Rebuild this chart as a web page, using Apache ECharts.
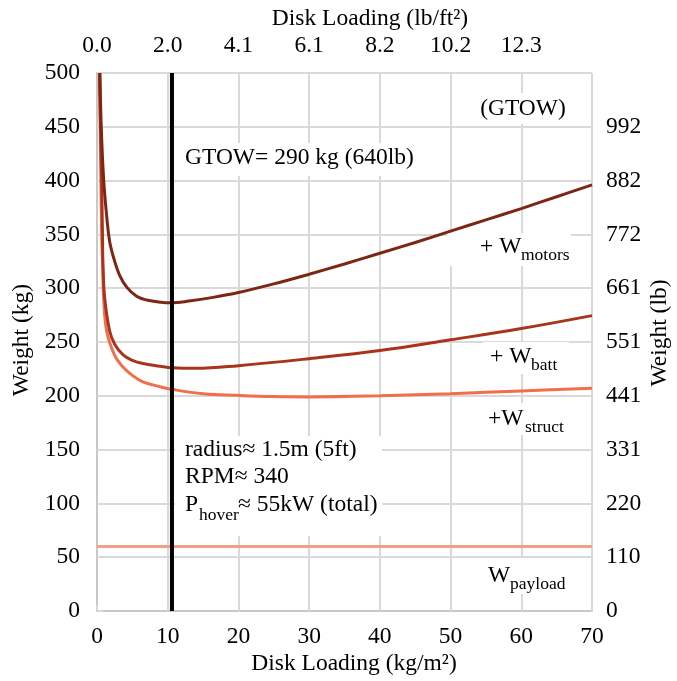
<!DOCTYPE html>
<html><head><meta charset="utf-8">
<script src="https://cdn.jsdelivr.net/npm/echarts@6/dist/echarts.min.js"></script>
<style>html,body{margin:0;padding:0;background:#fff}#c{width:677px;height:681px}</style>
</head><body><div id="c"></div>
<script>
// ---- data ----
const gtowX   = [0.42, 0.6, 0.95, 1.4, 1.8, 2.5, 3.2, 4.2, 5.6, 7, 9, 10.6, 13, 16, 20, 25, 30, 35, 40, 45, 50, 55, 60, 65, 70];
const gtowY   = [500, 450, 400, 365, 343, 325, 312, 301, 292.5, 289, 287, 286.5, 288, 291, 296, 304, 313, 322.5, 332.5, 342.5, 353, 363.5, 374, 385, 396];
const battX   = [0.36, 0.5, 0.65, 0.77, 0.85, 1.1, 1.8, 2.5, 3.7, 5, 6.5, 8.9, 10.6, 14, 20, 30, 40, 50, 60, 70];
const battY   = [500, 450, 400, 352, 321, 290, 260, 248, 238, 233, 230, 227.5, 226, 225.5, 228, 234.5, 242, 252, 262.5, 274.5];
const structX = [0.33, 0.45, 0.55, 0.65, 0.8, 0.95, 1.4, 2.5, 3.5, 5, 6.5, 8.9, 10.6, 15, 20, 25, 30, 40, 50, 60, 70];
const structY = [500, 450, 400, 352, 321, 290, 259, 237.5, 228, 219, 213, 208.5, 206, 202, 200.4, 199.3, 199, 200, 202, 204.5, 207];
const payloadX = [0, 70];
const payloadY = [60, 60];
const designX = [10.6, 10.6];
const designY = [0, 500];
const topTickLabels   = ['0.0', '2.0', '4.1', '6.1', '8.2', '10.2', '12.3', ''];
const rightTickLabels = ['0', '110', '220', '331', '441', '551', '661', '772', '882', '992', ''];

const FF = '"Liberation Serif", "Times New Roman", serif';
const FS = 23.5;
const SUB = 17.5;
const gridCol = '#d9d9d9';
const axisCol = '#c8c8c8';

function pairs(xs, ys) { return xs.map((x, i) => [x, ys[i]]); }

function txt(text, x, y, opts) {
  opts = opts || {};
  return {
    type: 'text', x: x, y: y, z: 5, silent: true,
    rotation: opts.rotation || 0,
    style: {
      text: text,
      font: (opts.size || FS) + 'px ' + FF,
      fill: '#000',
      align: opts.align || 'left', textAlign: opts.align || 'left',
      verticalAlign: 'middle', textVerticalAlign: 'middle'
    }
  };
}
function box(x, y, w, h) {
  return { type: 'rect', z: 1, silent: true, shape: { x: x, y: y, width: w, height: h }, style: { fill: '#fff' } };
}

const chart = echarts.init(document.getElementById('c'), null, { renderer: 'canvas' });
const labelStyle = { color: '#000', fontFamily: FF, fontSize: FS };

chart.setOption({
  animation: false,
  backgroundColor: '#fff',
  grid: { left: 97, right: 85, top: 73, bottom: 70, containLabel: false },
  xAxis: [
    { type: 'value', min: 0, max: 70, interval: 10, position: 'bottom',
      axisLine: { show: true, lineStyle: { color: axisCol, width: 2 } },
      axisTick: { show: false },
      axisLabel: Object.assign({ margin: 14 }, labelStyle),
      splitLine: { show: true, lineStyle: { color: gridCol, width: 2 } } },
    { type: 'value', min: 0, max: 70, interval: 10, position: 'top',
      axisLine: { show: false },
      axisTick: { show: true, length: 6, lineStyle: { color: gridCol, width: 2 } },
      axisLabel: Object.assign({ margin: 15, formatter: v => topTickLabels[Math.round(v / 10)] }, labelStyle),
      splitLine: { show: false } }
  ],
  yAxis: [
    { type: 'value', min: 0, max: 500, interval: 50, position: 'left',
      axisLine: { show: true, lineStyle: { color: axisCol, width: 2 } },
      axisTick: { show: false },
      axisLabel: Object.assign({ margin: 17 }, labelStyle),
      splitLine: { show: true, lineStyle: { color: gridCol, width: 2 } } },
    { type: 'value', min: 0, max: 500, interval: 50, position: 'right',
      axisLine: { show: true, lineStyle: { color: axisCol, width: 2 } },
      axisTick: { show: true, length: 6, lineStyle: { color: gridCol, width: 2 } },
      axisLabel: Object.assign({ margin: 14, formatter: v => rightTickLabels[Math.round(v / 50)] }, labelStyle),
      splitLine: { show: false } }
  ],
  series: [
    { name: 'W_payload', type: 'line', data: pairs(payloadX, payloadY), showSymbol: false, z: 3,
      lineStyle: { color: '#F4A088', width: 3 } },
    { name: '+W_struct', type: 'line', data: pairs(structX, structY), showSymbol: false, smooth: 0.4, z: 3,
      lineStyle: { color: '#F26E4B', width: 3 } },
    { name: '+W_batt', type: 'line', data: pairs(battX, battY), showSymbol: false, smooth: 0.4, z: 3,
      lineStyle: { color: '#A8341C', width: 3 } },
    { name: 'GTOW', type: 'line', data: pairs(gtowX, gtowY), showSymbol: false, smooth: 0.4, z: 3,
      lineStyle: { color: '#7D2614', width: 3 } },
    { name: 'design', type: 'line', data: pairs(designX, designY), showSymbol: false, z: 4,
      lineStyle: { color: '#000', width: 4 } }
  ],
  graphic: [
    box(470, 93, 108, 31),
    box(180, 143, 242, 33),
    box(447, 233, 124, 33),
    box(483, 342, 86, 32),
    box(478, 403, 94, 32),
    box(478, 558, 94, 36),
    box(175, 436, 207, 100),

    txt('Disk Loading (lb/ft\u00B2)', 370, 19, { align: 'center' }),
    txt('Disk Loading (kg/m\u00B2)', 354, 664, { align: 'center' }),
    txt('Weight (kg)', 22, 340, { align: 'center', rotation: Math.PI / 2 }),
    txt('Weight (lb)', 660, 333, { align: 'center', rotation: Math.PI / 2 }),

    txt('(GTOW)', 523, 109, { align: 'center' }),
    txt('GTOW= 290 kg (640lb)', 185, 158),
    txt('+ W', 480, 247), txt('motors', 521, 255, { size: SUB }),
    txt('+ W', 490, 357), txt('batt', 531, 365, { size: SUB }),
    txt('+W', 488, 419), txt('struct', 525, 427, { size: SUB }),
    txt('W', 488, 576), txt('payload', 510, 584, { size: SUB }),
    txt('radius\u2248 1.5m (5ft)', 185, 450),
    txt('RPM\u2248 340', 185, 477),
    txt('P', 185, 505), txt('hover', 199, 515, { size: SUB }), txt('\u2248 55kW (total)', 238, 505)
  ]
});
</script>
</body></html>
